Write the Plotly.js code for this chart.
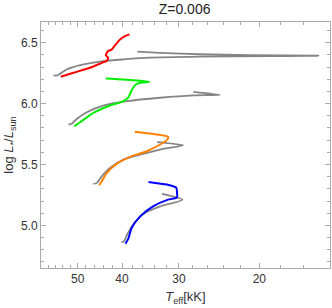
<!DOCTYPE html>
<html><head><meta charset="utf-8">
<script src="https://cdn.plot.ly/plotly-3.0.1.min.js"></script>
<style>html,body{margin:0;padding:0;background:#fff}#c{width:332px;height:308px}</style>
</head><body><div id="c"></div>
<script>
// Teff in kK, log L/Lsun
const grayA_T = [56.5,55.4,54.7,52.9,49.4,44.0,39.7,34.7,27.0,19.3,14.85,20.97,27.0,33.0,37.0];
const grayA_L = [6.231,6.231,6.245,6.28,6.316,6.349,6.363,6.377,6.385,6.39,6.393,6.398,6.405,6.416,6.426];
const grayB_T = [52.4,51.5,50.2,47.8,44.0,39.0,33.0,27.9,24.4,27.9];
const grayB_L = [5.828,5.836,5.875,5.929,5.984,6.020,6.048,6.067,6.072,6.097];
const grayC_T = [46.2,45.4,44.3,42.5,39.7,36.5,33.0,29.4,33.5];
const grayC_L = [5.340,5.349,5.403,5.472,5.540,5.581,5.623,5.658,5.683];
const grayD_T = [40.1,39.6,39.0,37.8,35.9,33.0,29.5,32.7];
const grayD_L = [4.860,4.868,4.923,5.006,5.094,5.156,5.211,5.258];

const red_T = [54.5,51.1,47.0,44.0,43.2,42.9,43.4,42.9,42.1,41.4,40.4,39.4,38.5];
const red_L = [6.22,6.253,6.294,6.340,6.349,6.377,6.398,6.431,6.445,6.480,6.527,6.554,6.568];
const green_T = [50.9,49.4,46.2,42.5,39.7,38.7,38.1,37.3,36.5,34.8,37.1,43.4];
const green_L = [5.814,5.847,5.924,5.984,6.020,6.053,6.110,6.157,6.171,6.179,6.19,6.206];
const orange_T = [44.9,44.3,43.2,41.1,38.4,35.3,33.0,31.8,31.7,33.6,37.5];
const orange_L = [5.329,5.362,5.431,5.505,5.563,5.609,5.664,5.705,5.727,5.746,5.768];
const blue_T = [39.3,38.7,38.1,36.5,34.2,31.7,30.3,30.3,30.4,31.9,35.0];
const blue_L = [4.850,4.896,4.979,5.074,5.156,5.211,5.230,5.266,5.308,5.335,5.357];

const xTicks = [50,40,30,20];
const yTicks = [5.0,5.5,6.0,6.5];

function tr(x,y,color,w){return {x:x,y:y,mode:'lines',type:'scatter',line:{color:color,width:w,shape:'spline',smoothing:0.6},hoverinfo:'none',showlegend:false};}
const data = [
  tr(grayA_T,grayA_L,'#858585',1.8),
  tr(grayB_T,grayB_L,'#858585',1.8),
  tr(grayC_T,grayC_L,'#858585',1.8),
  tr(grayD_T,grayD_L,'#858585',1.8),
  tr(red_T,red_L,'#ff0000',2),
  tr(green_T,green_L,'#00ee00',2),
  tr(orange_T,orange_L,'#ff8000',2),
  tr(blue_T,blue_L,'#0000ff',2)
];
const minorX=[];for(let t=14;t<=60;t+=2){if(xTicks.indexOf(t)<0)minorX.push(t);}
const minorY=[];for(let v=4.7;v<=6.65;v+=0.1){const r=Math.round(v*10)/10;if(Math.abs(r*2-Math.round(r*2))>1e-6)minorY.push(r);}
const font={family:'Liberation Sans, Arial, sans-serif',color:'#333',size:12};
const layout={
  width:332,height:308,
  margin:{l:41,r:2,t:22,b:40},
  paper_bgcolor:'#fff',plot_bgcolor:'#fff',
  font:font,
  title:{text:'Z=0.006',font:{family:'Liberation Sans, Arial, sans-serif',size:14,color:'#222'},x:0.556,xanchor:'center',y:0.985,yanchor:'top'},
  xaxis:{type:'log',range:[Math.log10(60.2),Math.log10(14.0)],tickmode:'array',tickvals:xTicks,ticktext:xTicks.map(String),
    ticks:'inside',ticklen:5,tickcolor:'#aaa',showline:true,linecolor:'#aaa',linewidth:1,mirror:'allticks',showgrid:false,zeroline:false,
    minor:{tickmode:'array',tickvals:minorX,ticks:'inside',ticklen:3,tickcolor:'#aaa',showgrid:false},
    tickfont:{size:12,color:'#333'},
    title:{text:'<i>T</i><sub>eff</sub>[kK]',font:{size:13,color:'#333'},standoff:6}},
  yaxis:{range:[4.65,6.67],tickmode:'array',tickvals:yTicks,ticktext:yTicks.map(v=>v.toFixed(1)),
    ticks:'inside',ticklen:5,tickcolor:'#aaa',showline:true,linecolor:'#aaa',linewidth:1,mirror:'allticks',showgrid:false,zeroline:false,
    minor:{tickmode:'array',tickvals:minorY,ticks:'inside',ticklen:3,tickcolor:'#aaa',showgrid:false},
    tickfont:{size:12,color:'#333'},
    title:{text:'log <i>L</i><sub>*</sub>/<i>L</i><sub>sun</sub>',font:{size:13,color:'#333'},standoff:4}}
};
Plotly.newPlot('c',data,layout,{staticPlot:true,displayModeBar:false});
</script></body></html>
